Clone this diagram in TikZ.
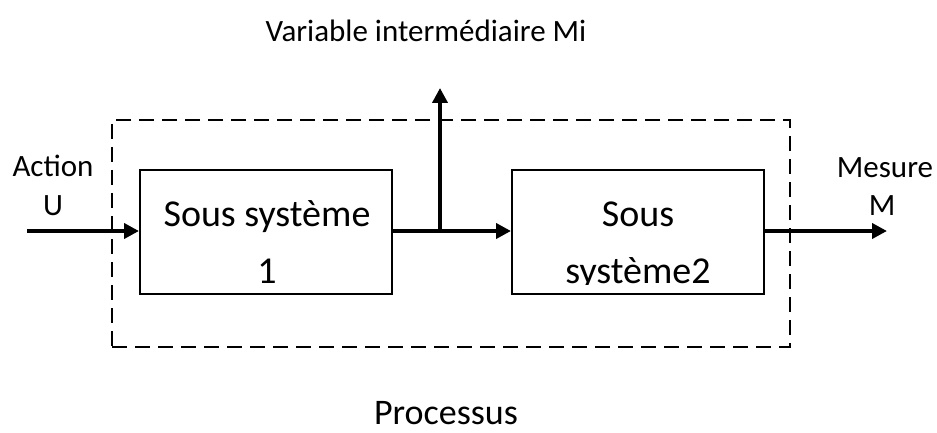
\documentclass[tikz,border=0pt]{standalone}
\usepackage{fontspec}
\setmainfont{Carlito}
\usetikzlibrary{arrows.meta}
\begin{document}
\begin{tikzpicture}[x=1pt,y=-1pt,
  blockbox/.style={draw=black, line width=2pt, minimum width=252pt, minimum height=124pt, inner sep=0pt},
  procbox/.style={draw=black, line width=2pt, dash pattern=on 15pt off 8pt},
  flow/.style={line width=4pt, -{Triangle[length=15pt,width=15pt]}},
  bigtxt/.style={font=\fontsize{38}{45}\selectfont, anchor=base, inner sep=0pt},
  lbltxt/.style={font=\fontsize{31}{37}\selectfont, anchor=base, inner sep=0pt},
  proctxt/.style={font=\fontsize{36}{43}\selectfont, anchor=base, inner sep=0pt}]
\useasboundingbox (0,0) rectangle (937,433);
% process frame
\node[procbox, minimum width=678pt, minimum height=227pt, inner sep=0pt] (proc) at (451,233.5) {};
% blocks
\node[blockbox] (b1) at (266,232) {};
\node[blockbox] (b2) at (638,232) {};
% texts in blocks
\node[bigtxt] (t1a) at (267,226) {Sous système};
\node[bigtxt] (t1b) at (267,283) {1};
\node[bigtxt] (t2a) at (638,226) {Sous};
\begin{scope}
\clip (500,150) rectangle (780,284);
\node[bigtxt] (t2b) at (638,283) {système2};
\end{scope}
% labels
\node[lbltxt] (act) at (53,176) {Action};
\node[lbltxt] (u) at (53,215) {U};
\node[lbltxt] (mes) at (885,177) {Mesure};
\node[lbltxt] (m) at (882,215) {M};
\node[lbltxt] (var) at (426,42) {Variable intermédiaire Mi};
\node[proctxt] (ptxt) at (446,424) {Processus};
% connectors
\coordinate (in) at (27,231);
\coordinate (j) at (440,231);
\coordinate (up) at (440,88);
\coordinate (out) at (887,231);
\draw[flow] (in) -- (in -| b1.west);
\draw[flow] (j -| b1.east) -- (j -| b2.west);
\draw[flow] (j) -- (up);
\draw[flow] (out -| b2.east) -- (out);
\end{tikzpicture}
\end{document}
